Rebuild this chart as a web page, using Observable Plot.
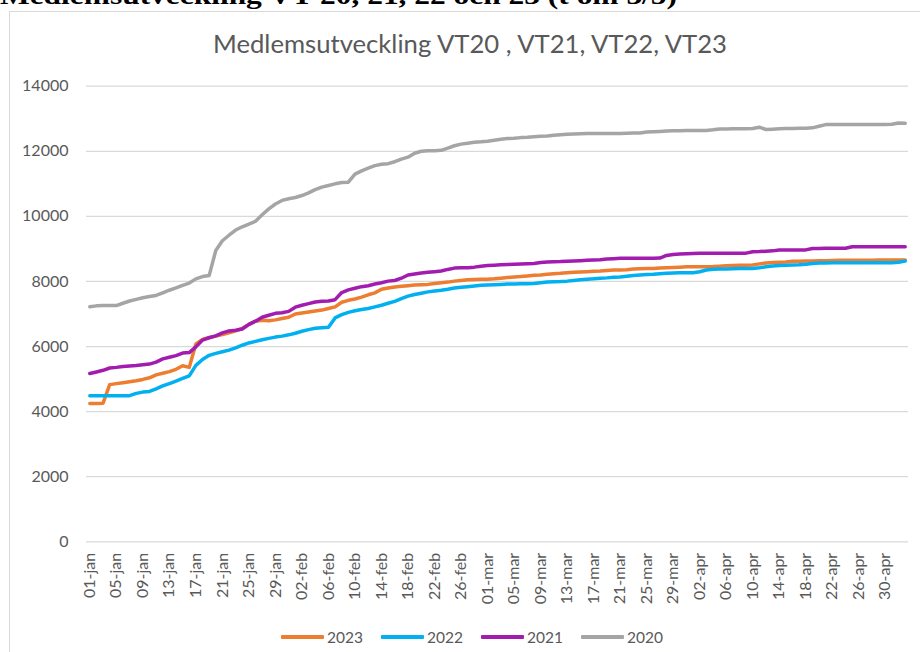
<!DOCTYPE html>
<html>
<head>
<meta charset="utf-8">
<script src="https://cdn.jsdelivr.net/npm/d3@7"></script>
<script src="https://cdn.jsdelivr.net/npm/@observablehq/plot@0.6"></script>
<style>
  html, body { margin: 0; padding: 0; background: #fff; }
  #wrap { position: relative; width: 920px; height: 652px; overflow: hidden; font-family: Lato, sans-serif; }
  #box { position: absolute; left: 9px; top: 11px; width: 1000px; height: 800px; border: 1.6px solid #d9d9d9; box-sizing: border-box; }
  #chart { position: absolute; left: 0; top: 0; }
  #heads { position: absolute; left: 0; top: 0; }
  #legend { position: absolute; left: 281px; top: 628px; display: flex; gap: 18px; align-items: center; }
  .item { display: flex; align-items: center; gap: 3px; font-size: 15.5px; color: #595959; }
  .swatch { width: 43px; height: 3.5px; border-radius: 1px; }
</style>
</head>
<body>
<div id="wrap">
  <div id="box"></div>
  <div id="chart"></div>
  <svg id="heads" width="920" height="70">
    <text id="heading" x="0" y="4" font-family="Liberation Serif, serif" font-weight="bold" font-size="26" fill="#000" textLength="677" lengthAdjust="spacingAndGlyphs">Medlemsutveckling VT 20, 21, 22 och 23 (t om 3/5)</text>
    <text id="title" x="470" y="53" text-anchor="middle" font-family="Lato, sans-serif" font-size="25" fill="#595959" textLength="514" lengthAdjust="spacingAndGlyphs">Medlemsutveckling VT20 , VT21, VT22, VT23</text>
  </svg>
  <div id="legend"></div>
</div>
<script>
// ---- data ----
const years = ["2023", "2022", "2021", "2020"];
const colors = ["#ED7D31", "#00B0F0", "#A21CAF", "#A5A5A5"];
const monthNames = ["jan", "feb", "mar", "apr", "maj"];
const yTicks = [0, 2000, 4000, 6000, 8000, 10000, 12000, 14000];
const tickLabels = ["01-jan","05-jan","09-jan","13-jan","17-jan","21-jan","25-jan","29-jan",
  "02-feb","06-feb","10-feb","14-feb","18-feb","22-feb","26-feb",
  "01-mar","05-mar","09-mar","13-mar","17-mar","21-mar","25-mar","29-mar",
  "02-apr","06-apr","10-apr","14-apr","18-apr","22-apr","26-apr","30-apr"];

const v2023 = [
  4250, 4250, 4260, 4830, 4860, 4890, 4920, 4950, 4990, 5040,
  5130, 5180, 5230, 5300, 5410, 5360, 6080, 6220, 6280, 6320,
  6370, 6420, 6480, 6560, 6680, 6780, 6810, 6790, 6820, 6860,
  6900, 7000, 7030, 7060, 7090, 7120, 7170, 7220, 7360, 7420,
  7460, 7520, 7590, 7650, 7760, 7800, 7830, 7850, 7870, 7890,
  7900, 7910, 7940, 7960, 7980, 8010, 8030, 8050, 8060, 8065,
  8070, 8080, 8100, 8120, 8135, 8150, 8170, 8190, 8200, 8220,
  8240, 8250, 8270, 8280, 8290, 8300, 8310, 8320, 8340, 8350,
  8350, 8360, 8380, 8390, 8400, 8400, 8410, 8420, 8430, 8440,
  8450, 8455, 8455, 8455, 8460, 8470, 8480, 8490, 8500, 8500,
  8505, 8540, 8565, 8580, 8590, 8600, 8620, 8620, 8625, 8630,
  8635, 8640, 8645, 8650, 8650, 8650, 8655, 8655, 8655, 8660,
  8660, 8660, 8660, 8660
];
const v2022 = [
  4490, 4490, 4490, 4490, 4490, 4490, 4490, 4560, 4600, 4620,
  4700, 4790, 4860, 4940, 5020, 5100, 5420, 5600, 5730, 5790,
  5840, 5890, 5960, 6040, 6110, 6160, 6210, 6250, 6290, 6320,
  6360, 6410, 6470, 6520, 6560, 6580, 6590, 6880, 6980, 7050,
  7100, 7140, 7170, 7220, 7270, 7330, 7390, 7470, 7550, 7600,
  7640, 7680, 7710, 7730, 7760, 7800, 7820, 7840, 7860, 7880,
  7890, 7900, 7910, 7920, 7925, 7930, 7930, 7940, 7960, 7980,
  7990, 7995, 8010, 8030, 8050, 8065, 8080, 8100, 8110, 8130,
  8140, 8160, 8180, 8200, 8215, 8220, 8240, 8250, 8260, 8265,
  8270, 8270, 8300, 8350, 8375, 8380, 8385, 8390, 8395, 8400,
  8400, 8420, 8450, 8475, 8490, 8500, 8505, 8510, 8530, 8550,
  8565, 8570, 8575, 8575, 8575, 8575, 8575, 8575, 8575, 8575,
  8575, 8575, 8590, 8625
];
const v2021 = [
  5170, 5220, 5270, 5340, 5360, 5390, 5405, 5420, 5440, 5460,
  5520, 5620, 5670, 5720, 5800, 5815, 5990, 6200, 6270, 6330,
  6420, 6480, 6500, 6540, 6680, 6780, 6900, 6960, 7020, 7040,
  7080, 7210, 7270, 7320, 7370, 7390, 7400, 7440, 7660, 7740,
  7790, 7840, 7870, 7920, 7960, 8010, 8030, 8100, 8200, 8230,
  8260, 8280, 8300, 8320, 8370, 8410, 8420, 8420, 8440, 8470,
  8490, 8500, 8510, 8520, 8530, 8540, 8545, 8550, 8580, 8600,
  8605, 8610, 8620, 8630, 8640, 8650, 8660, 8670, 8690, 8700,
  8710, 8710, 8710, 8710, 8710, 8710, 8720, 8800, 8830, 8840,
  8850, 8860, 8865, 8865, 8865, 8865, 8865, 8870, 8870, 8870,
  8915, 8920, 8930, 8940, 8965, 8965, 8965, 8970, 8970, 9015,
  9015, 9020, 9020, 9020, 9020, 9065, 9065, 9065, 9065, 9065,
  9065, 9065, 9065, 9065
];
const v2020 = [
  7220, 7250, 7260, 7260, 7260, 7330, 7400, 7450, 7500, 7540,
  7570, 7650, 7730, 7800, 7880, 7950, 8080, 8150, 8180, 8950,
  9250, 9420, 9580, 9680, 9760, 9850, 10050, 10230, 10380, 10490,
  10540, 10580, 10640, 10720, 10820, 10900, 10950, 11000, 11040, 11050,
  11300, 11400, 11480, 11560, 11600, 11620, 11680, 11760, 11820, 11940,
  12000, 12020, 12020, 12030, 12100, 12170, 12220, 12250, 12280, 12290,
  12310, 12340, 12370, 12390, 12400, 12420, 12430, 12450, 12460, 12470,
  12490, 12510, 12520, 12530, 12540, 12545, 12550, 12550, 12550, 12550,
  12550, 12555, 12560, 12560, 12590, 12600, 12610, 12620, 12630, 12630,
  12635, 12640, 12640, 12640, 12660, 12685, 12685, 12690, 12690, 12690,
  12700, 12740, 12670, 12680, 12690, 12700, 12700, 12710, 12710, 12720,
  12770, 12820, 12820, 12820, 12820, 12820, 12820, 12820, 12820, 12820,
  12820, 12830, 12870, 12860
];

// daily categories 01-jan .. 03-maj (category axis as in the source workbook)
const dayFmt = d3.utcFormat("%d");
const days = d3.utcDay.range(new Date(Date.UTC(2020, 0, 1)), new Date(Date.UTC(2020, 4, 4)))
  .map(d => dayFmt(d) + "-" + monthNames[d.getUTCMonth()]);

const seriesValues = [v2023, v2022, v2021, v2020];
const rows = years.flatMap((yr, k) => seriesValues[k].map((v, i) => ({ day: days[i], value: v, year: yr })));

const chart = Plot.plot({
  width: 920,
  height: 620,
  marginLeft: 86,
  marginRight: 12,
  marginTop: 85.7,
  marginBottom: 78.7,
  style: { fontFamily: "Lato, sans-serif", fontSize: "16px", color: "#595959", background: "transparent", overflow: "visible" },
  x: { type: "point", domain: days, padding: 0.5, label: null },
  y: { domain: [0, 14000], label: null },
  marks: [
    Plot.gridY(yTicks, { stroke: "#d9d9d9", strokeOpacity: 1, strokeWidth: 1.3 }),
    Plot.axisY(yTicks, { tickSize: 0, tickPadding: 18, tickFormat: d3.format("d"), fontSize: 16 }),
    Plot.axisX(tickLabels, { tickSize: 0, tickRotate: -90, tickPadding: 11, fontSize: 16 }),
    ...years.map((yr, k) => Plot.line(rows.filter(r => r.year === yr), {
      x: "day", y: "value", stroke: colors[k], strokeWidth: 3.5, strokeLinejoin: "round", strokeLinecap: "round"
    }))
  ]
});
document.getElementById("chart").appendChild(chart);

const legend = document.getElementById("legend");
years.forEach((yr, k) => {
  const item = document.createElement("div");
  item.className = "item";
  const sw = document.createElement("span");
  sw.className = "swatch";
  sw.style.background = colors[k];
  const tx = document.createElement("span");
  tx.textContent = yr;
  item.appendChild(sw);
  item.appendChild(tx);
  legend.appendChild(item);
});
</script>
</body>
</html>
